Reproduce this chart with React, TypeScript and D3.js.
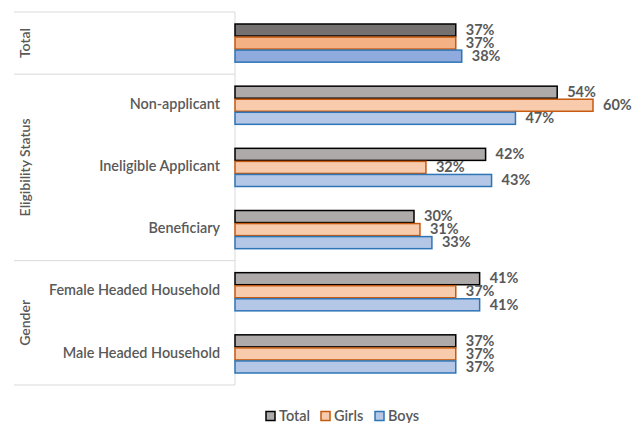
import React from "react";
import * as d3 from "d3";

const width = 640;
const height = 423;

// rows, top to bottom
const categories = ["", "Non-applicant", "Ineligible Applicant", "Beneficiary", "Female Headed Household", "Male Headed Household"];
const rowGroups = ["Total", "Eligibility Status", "Eligibility Status", "Eligibility Status", "Gender", "Gender"];
const groupNames = ["Total", "Eligibility Status", "Gender"];

const seriesNames = ["Total", "Girls", "Boys"];
const totalValues = [37, 54, 42, 30, 41, 37];
const girlsValues = [37, 60, 32, 31, 37, 37];
const boysValues = [38, 47, 43, 33, 41, 37];

const fills = ["#AEAAAA", "#F8CBAD", "#B4C7E7"];
const fillsDark = ["#767171", "#F4B183", "#8FAADC"];
const strokes = ["#000000", "#C55A11", "#2E75B6"];

const font = "Lato, 'Open Sans', sans-serif";
const textColor = "#595959";

const left = 235;
const top = 12;
const bottom = 385;

export default function App() {
    const values = [totalValues, girlsValues, boysValues];

    const y = d3.scaleBand<number>()
        .domain(d3.range(categories.length))
        .range([top, bottom])
        .paddingInner(0.37)
        .paddingOuter(0.185);

    const inner = d3.scaleBand<number>()
        .domain(d3.range(seriesNames.length))
        .range([0, y.bandwidth()]);

    const x = d3.scaleLinear().domain([0, 60]).range([left, 593]);

    const step = y.step();
    const rowTop = (i: number) => top + i * step;

    // group spans for the outer label column
    const spans = groupNames.map(g => {
        const idx = rowGroups.map((r, i) => (r === g ? i : -1)).filter(i => i >= 0);
        return {name: g, y0: rowTop(idx[0]), y1: rowTop(idx[idx.length - 1] + 1)};
    });

    const legendX = [266, 321, 375];

    return (
        <svg width={width} height={height} style={{position: "absolute", left: 0, top: 0}}>
            <rect width={width} height={height} fill="#fff"/>

            {/* separators */}
            {[top, ...spans.map(s => s.y1)].map((yy, i) => (
                <line key={i} x1={14} x2={left} y1={yy} y2={yy} stroke="#D9D9D9" strokeWidth={1}/>
            ))}
            <line x1={left} x2={left} y1={top} y2={bottom} stroke="#D9D9D9" strokeWidth={1}/>

            {spans.map(s => (
                <text key={s.name} transform={`translate(26,${(s.y0 + s.y1) / 2}) rotate(-90)`}
                      textAnchor="middle" dominantBaseline="middle" fontFamily={font}
                      fontSize={14} fontWeight={600} fill={textColor}>{s.name}</text>
            ))}

            {categories.map((c, i) => (
                <text key={i} x={220} y={(y(i) ?? 0) + y.bandwidth() / 2} textAnchor="end"
                      dominantBaseline="middle" fontFamily={font} fontSize={14.4}
                      fontWeight={600} fill={textColor}>{c}</text>
            ))}

            {categories.map((c, i) => (
                <g key={i} transform={`translate(0,${y(i)})`}>
                    {values.map((vals, s) => {
                        const v = vals[i];
                        const by = inner(s) ?? 0;
                        const bh = inner.bandwidth();
                        return (
                            <g key={s}>
                                <rect x={left} y={by + 0.5} width={x(v) - left} height={bh - 1}
                                      fill={i === 0 ? fillsDark[s] : fills[s]}
                                      stroke={strokes[s]} strokeWidth={1.5}/>
                                <text x={x(v) + 10} y={by + bh / 2 + 1} dominantBaseline="middle"
                                      fontFamily={font} fontSize={14.5} fontWeight={700}
                                      fill={textColor}>{v}%</text>
                            </g>
                        );
                    })}
                </g>
            ))}

            {/* legend */}
            {seriesNames.map((n, s) => (
                <g key={n} transform={`translate(${legendX[s]},416)`}>
                    <rect x={0} y={-4.5} width={9} height={9} fill={fills[s]} stroke={strokes[s]} strokeWidth={1.5}/>
                    <text x={13} y={1} dominantBaseline="middle" fontFamily={font} fontSize={14.5}
                          fontWeight={600} fill={textColor}>{n}</text>
                </g>
            ))}
        </svg>
    );
}
